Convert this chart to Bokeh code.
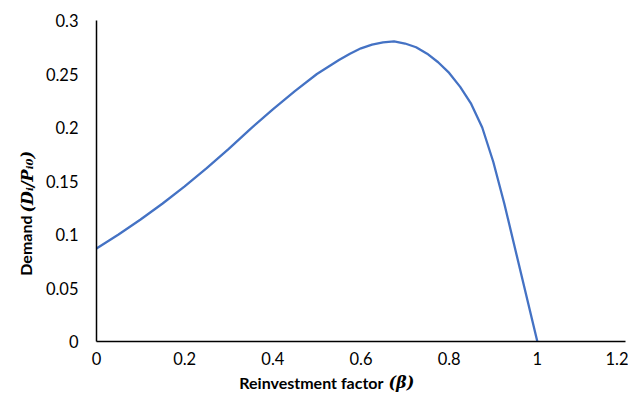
import math
from bokeh.plotting import figure
from bokeh.models import Range1d, Label, FixedTicker, CustomJSTickFormatter
from bokeh.embed import file_html
from bokeh.resources import INLINE

beta = [0, 0.05, 0.1, 0.15, 0.2, 0.25, 0.3, 0.35, 0.4, 0.45, 0.5,
        0.55, 0.575, 0.6, 0.625, 0.65, 0.675, 0.7, 0.725, 0.75, 0.775,
        0.8, 0.825, 0.85, 0.875, 0.9, 0.925, 0.95, 0.975, 1.0]
demand = [0.087, 0.100, 0.114, 0.129, 0.145, 0.162, 0.180, 0.199, 0.217, 0.234, 0.250,
          0.263, 0.269, 0.274, 0.2775, 0.2795, 0.2805, 0.2785, 0.275, 0.269, 0.261,
          0.251, 0.238, 0.222, 0.200, 0.168, 0.129, 0.086, 0.043, 0.0]

x_ticks = [0, 0.2, 0.4, 0.6, 0.8, 1.0, 1.2]
y_ticks = [0, 0.05, 0.1, 0.15, 0.2, 0.25, 0.3]
x_limits = (0, 1.2)
y_limits = (0, 0.3)

FONT = "Lato"
MATH_FONT = "DejaVu Serif"
W, H = 628, 397
LEFT, RIGHT, TOP, BOTTOM = 96, 625, 20, 341  # plot area in page pixels
sx = (RIGHT - LEFT) / (x_limits[1] - x_limits[0])
sy = (BOTTOM - TOP) / (y_limits[1] - y_limits[0])

def dx(px):
    return x_limits[0] + (px - LEFT) / sx

def dy(py):
    return y_limits[0] + (BOTTOM - py) / sy

# the frame covers the whole canvas; axes sit at fixed locations inside it
p = figure(width=W, height=H, output_backend="svg", toolbar_location=None,
           x_range=Range1d(dx(0), dx(W)), y_range=Range1d(dy(H), dy(0)),
           min_border_left=0, min_border_right=0, min_border_top=0, min_border_bottom=0)
p.outline_line_color = None
p.xgrid.grid_line_color = None
p.ygrid.grid_line_color = None
p.background_fill_color = "white"
p.border_fill_color = "white"

p.line(beta, demand, line_color="#4472C4", line_width=2.3)

fmt = CustomJSTickFormatter(code="return String(parseFloat(tick.toFixed(2)));")
for ax, ticks, bounds, loc in ((p.xaxis[0], x_ticks, x_limits, y_limits[0]),
                               (p.yaxis[0], y_ticks, y_limits, x_limits[0])):
    ax.ticker = FixedTicker(ticks=ticks)
    ax.formatter = fmt
    ax.bounds = bounds
    ax.fixed_location = loc
    ax.axis_line_color = "black"
    ax.axis_line_width = 1.5
    ax.major_tick_line_color = None
    ax.minor_tick_line_color = None
    ax.major_tick_out = 0
    ax.major_tick_in = 0
    ax.major_label_text_font = FONT
    ax.major_label_text_font_size = "16.5px"
    ax.major_label_text_color = "black"
p.yaxis.major_label_standoff = 18
p.xaxis.major_label_standoff = 10

# axis titles composed of a plain part and a math part
def lab(px, py, text, align, font, style, angle=0.0):
    p.add_layout(Label(x=dx(px), y=dy(py), text=text, text_align=align, angle=angle,
                       text_baseline="middle", text_font=font, text_font_style=style,
                       text_font_size="16px", text_color="black"))

lab(383, 382, "Reinvestment factor", "right", FONT, "bold")
lab(388, 382, "(β)", "left", MATH_FONT, "bold italic")
lab(25, 215, "Demand", "right", FONT, "bold", math.pi / 2)
lab(27, 212, "(Dᵢ/Pᵢ₀)", "left", MATH_FONT, "bold italic", math.pi / 2)

open("out.html", "w").write(file_html(p, INLINE))
